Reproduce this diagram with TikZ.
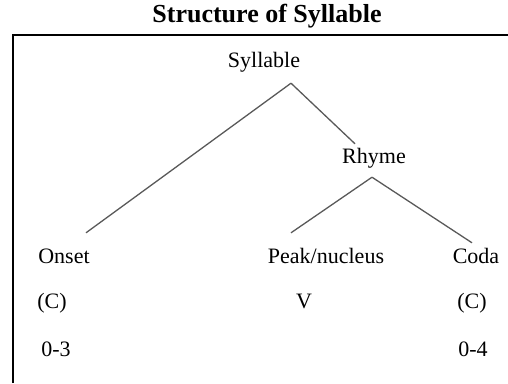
\documentclass[tikz,border=0pt]{standalone}
\usepackage{fontspec}
\setmainfont{Liberation Serif}
\usepackage{tikz}
\usetikzlibrary{positioning}

\begin{document}
\begin{tikzpicture}[x=1pt,y=1pt,
 lbl/.style={inner sep=0pt,text height=15pt,text depth=5pt,font=\fontsize{22}{26}\selectfont},
 branch/.style={draw=black!65,line width=1.3pt},
 frame/.style={line width=2.2pt}]
\useasboundingbox (0,0) rectangle (508,-383);
\node[font=\fontsize{26}{30}\selectfont\bfseries] (title) at (267,-16) {Structure of Syllable};
\draw[frame] (13,-383) -- (13,-35) -- (508,-35);
\node[lbl] (syl) at (264,-62) {Syllable};
\node[lbl] (rhyme) at (374,-158) {Rhyme};
\node[lbl] (onset) at (64,-258) {Onset};
\node[lbl] (peak) at (326,-258) {Peak/nucleus};
\node[lbl] (coda) at (476,-258) {Coda};
\node[lbl] (onsetc) at (52,-303) {(C)};
\node[lbl] (peakv) at (304,-303) {V};
\node[lbl] (codac) at (472,-303) {(C)};
\node[lbl] (onsetn) at (56,-351) {0-3};
\node[lbl] (codan) at (473,-351) {0-4};
\coordinate (sylroot) at ([xshift=27pt,yshift=-11pt]syl.south);
\coordinate (rhymeroot) at ([xshift=-2pt,yshift=-9pt]rhyme.south);
\draw[branch] (sylroot) -- ([xshift=22pt,yshift=15pt]onset.north);
\draw[branch] (sylroot) -- ([xshift=-19pt,yshift=4pt]rhyme.north);
\draw[branch] (rhymeroot) -- ([xshift=-35pt,yshift=15pt]peak.north);
\draw[branch] (rhymeroot) -- ([xshift=-4pt,yshift=5pt]coda.north);
\end{tikzpicture}
\end{document}
